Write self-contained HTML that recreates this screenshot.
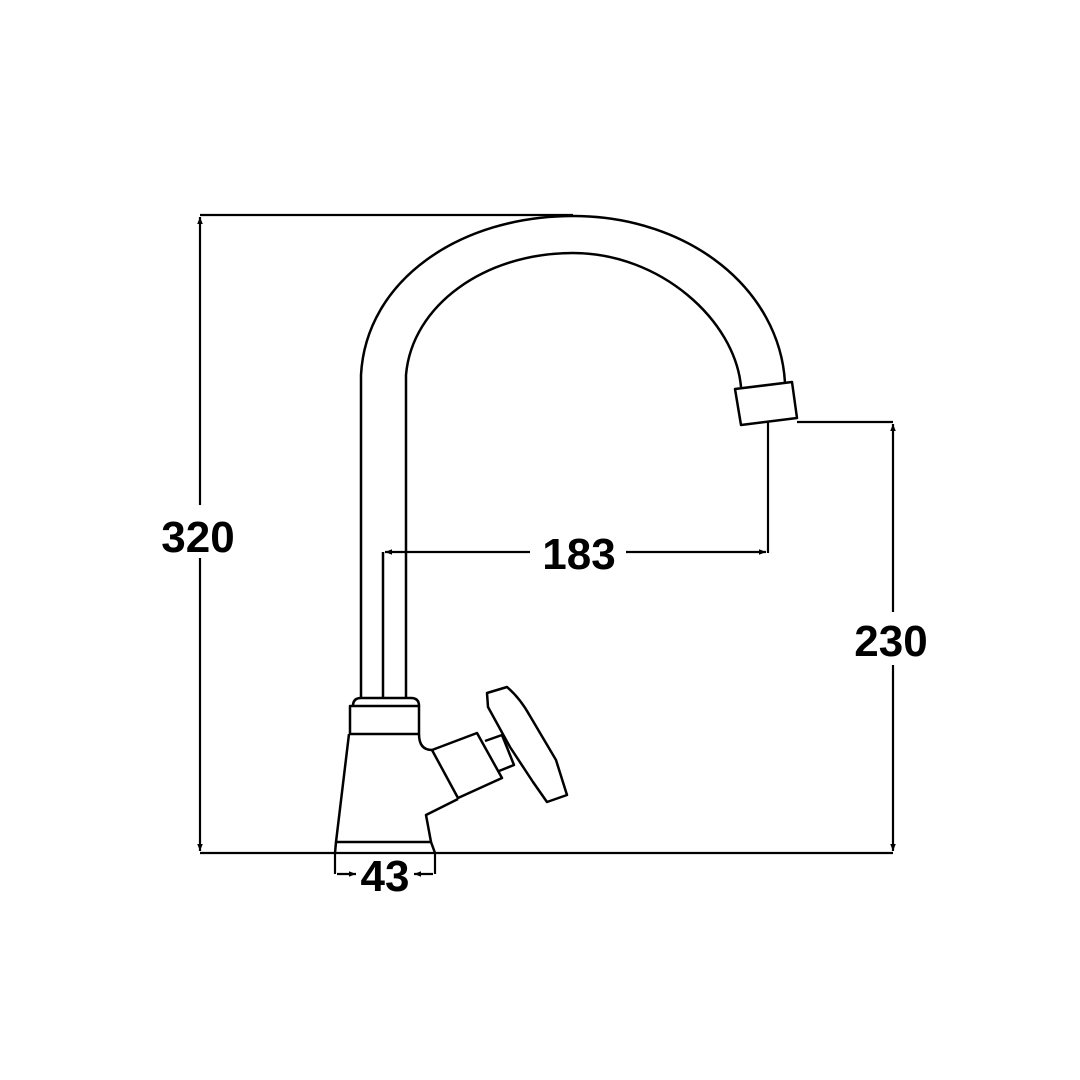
<!DOCTYPE html>
<html><head><style>
html,body{margin:0;padding:0;background:#fff;}
svg{display:block;}
text{font-family:"Liberation Sans",sans-serif;font-weight:bold;fill:#000;}
</style></head><body>
<svg width="1080" height="1080" viewBox="0 0 1080 1080" xmlns="http://www.w3.org/2000/svg">
<defs>
<marker id="a" viewBox="0 0 10 10" refX="10" refY="5" markerWidth="9" markerHeight="7" orient="auto-start-reverse" markerUnits="userSpaceOnUse">
<path d="M0,1 L10,5 L0,9 z" fill="#000"/></marker>
</defs>
<g fill="none" stroke="#000" stroke-width="2.5" stroke-linejoin="round">
<path d="M361,698 L361,375 C366,280 460,216 573,216 C690,216 780,290 785,383"/>
<path d="M406,698 L406,375 C412,305 485,253 573,253 C660,253 735,320 741,387"/>
<line x1="383" y1="552" x2="383" y2="698"/>
<path d="M735,389 L792,382 L797,418 L741,425 Z"/>
<path d="M353,706 Q353,698 361,698 L411,698 Q419,698 419,706"/>
<rect x="350" y="706" width="69" height="28"/>
<path d="M349,734 L336,842 L431,842 L426,815 L458,799"/>
<path d="M419,734 Q419,750 432,750"/>
<path d="M432,750 L477,733 L502,778 L458,798 Z"/>
<path d="M485,741 L502,735 L514,765 L499,771"/>
<path d="M487,693 L507,687 Q520,698 530,716 L556,760 L567,795 L547,802 L533,782 L510,747 L488,707 Z"/>
<path d="M336,842 L335,853 M431,842 L435,853"/>
</g>
<g fill="none" stroke="#000" stroke-width="2.2">
<line x1="200" y1="215" x2="573" y2="215"/>
<line x1="200" y1="853" x2="893" y2="853"/>
<line x1="200" y1="505" x2="200" y2="217" marker-end="url(#a)"/>
<line x1="200" y1="558" x2="200" y2="851" marker-end="url(#a)"/>
<line x1="797" y1="422" x2="893" y2="422"/>
<line x1="893" y1="612" x2="893" y2="424" marker-end="url(#a)"/>
<line x1="893" y1="665" x2="893" y2="851" marker-end="url(#a)"/>
<line x1="768" y1="422" x2="768" y2="553"/>
<line x1="530" y1="552" x2="385" y2="552" marker-end="url(#a)"/>
<line x1="626" y1="552" x2="766" y2="552" marker-end="url(#a)"/>
<line x1="335" y1="853" x2="335" y2="874"/>
<line x1="435" y1="853" x2="435" y2="874"/>
<line x1="337" y1="874" x2="356" y2="874" marker-end="url(#a)"/>
<line x1="433" y1="874" x2="414" y2="874" marker-end="url(#a)"/>
</g>
<text x="198" y="552" font-size="44" text-anchor="middle">320</text>
<text x="579" y="569" font-size="44" text-anchor="middle">183</text>
<text x="891" y="656" font-size="44" text-anchor="middle">230</text>
<text x="385" y="891" font-size="44" text-anchor="middle">43</text>
</svg>
</body></html>
